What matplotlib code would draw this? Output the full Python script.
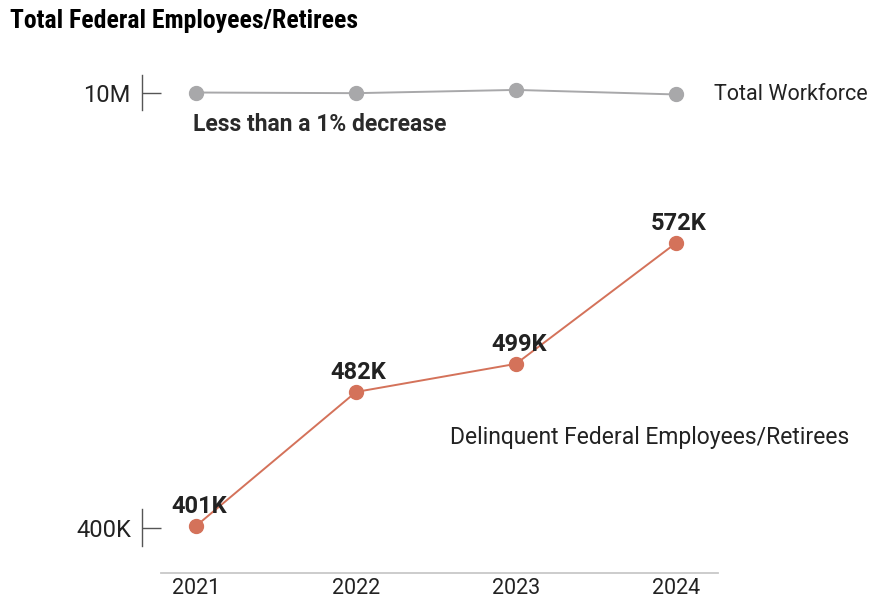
import matplotlib
matplotlib.use("Agg")
import matplotlib.pyplot as plt
from matplotlib.ticker import FuncFormatter

# Data
years = [2021, 2022, 2023, 2024]
workforce_m = [10.00, 9.99, 10.04, 9.97]          # total federal employees/retirees, millions
delinquent_k = [401, 482, 499, 572]               # delinquent employees/retirees, thousands
delinquent_labels = ["401K", "482K", "499K", "572K"]

GRAY = "#A8A8AA"
ORANGE = "#D4725A"
TEXT = "#222222"
BODY = ["Roboto", "DejaVu Sans"]
TITLE = ["Roboto Condensed", "Archivo Narrow", "DejaVu Sans"]

plt.rcParams["font.family"] = BODY

fig = plt.figure(figsize=(8.7, 5.99), dpi=100)
fig.patch.set_facecolor("white")

xlim = (2020.6625, 2024.2625)

# Upper panel: total workforce
ax_top = fig.add_axes([0.1632, 0.7913, 0.6621, 0.1085])
ax_top.plot(years, workforce_m, color=GRAY, lw=1.4, marker="o", ms=10,
            mfc=GRAY, mec=GRAY, zorder=3, clip_on=False)
ax_top.set_xlim(*xlim)
ax_top.set_ylim(9.5, 10.5)
for s in ["top", "right", "bottom"]:
    ax_top.spines[s].set_visible(False)
ax_top.spines["left"].set_bounds(9.73, 10.27)
ax_top.spines["left"].set_color("#555555")
ax_top.spines["left"].set_linewidth(1.0)
ax_top.set_xticks([])
ax_top.set_yticks([10])
ax_top.yaxis.set_major_formatter(FuncFormatter(lambda v, p: f"{v:.0f}M"))
ax_top.tick_params(axis="y", direction="in", length=14, width=1.0,
                   color="#555555", pad=8, labelsize=17, labelcolor=TEXT)
ax_top.patch.set_visible(False)

ax_top.annotate("Total Workforce", (years[-1], workforce_m[-1]),
                xytext=(27, 0), textcoords="offset points",
                ha="left", va="center", fontsize=15.5, color=TEXT,
                annotation_clip=False)
ax_top.annotate("Less than a 1% decrease", (years[0], workforce_m[0]),
                xytext=(-2, -23), textcoords="offset points",
                ha="left", va="center", fontsize=16.5, fontweight="bold",
                color="#2a2a2a", annotation_clip=False)

# Lower panel: delinquent employees/retirees
ax = fig.add_axes([0.1632, 0.0434, 0.6621, 0.6227])
ax.plot(years, delinquent_k, color=ORANGE, lw=1.4, marker="o", ms=10,
        mfc=ORANGE, mec=ORANGE, zorder=3, clip_on=False)
ax.set_xlim(*xlim)
ax.set_ylim(372.6, 598)
for s in ["top", "right"]:
    ax.spines[s].set_visible(False)
ax.spines["left"].set_bounds(389, 411)
ax.spines["left"].set_color("#555555")
ax.spines["left"].set_linewidth(1.0)
ax.spines["bottom"].set_bounds(2020.78, xlim[1])
ax.spines["bottom"].set_color("#C8C8C8")
ax.spines["bottom"].set_linewidth(1.3)
ax.set_yticks([400])
ax.yaxis.set_major_formatter(FuncFormatter(lambda v, p: f"{v:.0f}K"))
ax.tick_params(axis="y", direction="in", length=14, width=1.0,
               color="#555555", pad=8, labelsize=17, labelcolor=TEXT)
ax.set_xticks(years)
ax.set_xticklabels([str(y) for y in years])
ax.tick_params(axis="x", length=0, pad=3.5, labelsize=15.5, labelcolor=TEXT)
ax.patch.set_visible(False)

for x, y, lab in zip(years, delinquent_k, delinquent_labels):
    ax.annotate(lab, (x, y), xytext=(2, 6), textcoords="offset points",
                ha="center", va="bottom", fontsize=17, fontweight="bold",
                color=TEXT, annotation_clip=False)

ax.text(2022.5875, 454.2, "Delinquent Federal Employees/Retirees",
        ha="left", va="center", fontsize=16.5, color=TEXT)

fig.text(10 / 870, 1 - 21 / 599, "Total Federal Employees/Retirees",
         ha="left", va="center", fontsize=18.5, fontweight="bold",
         color="black", family=TITLE)

fig.savefig("out.png", dpi=100, facecolor="white")
